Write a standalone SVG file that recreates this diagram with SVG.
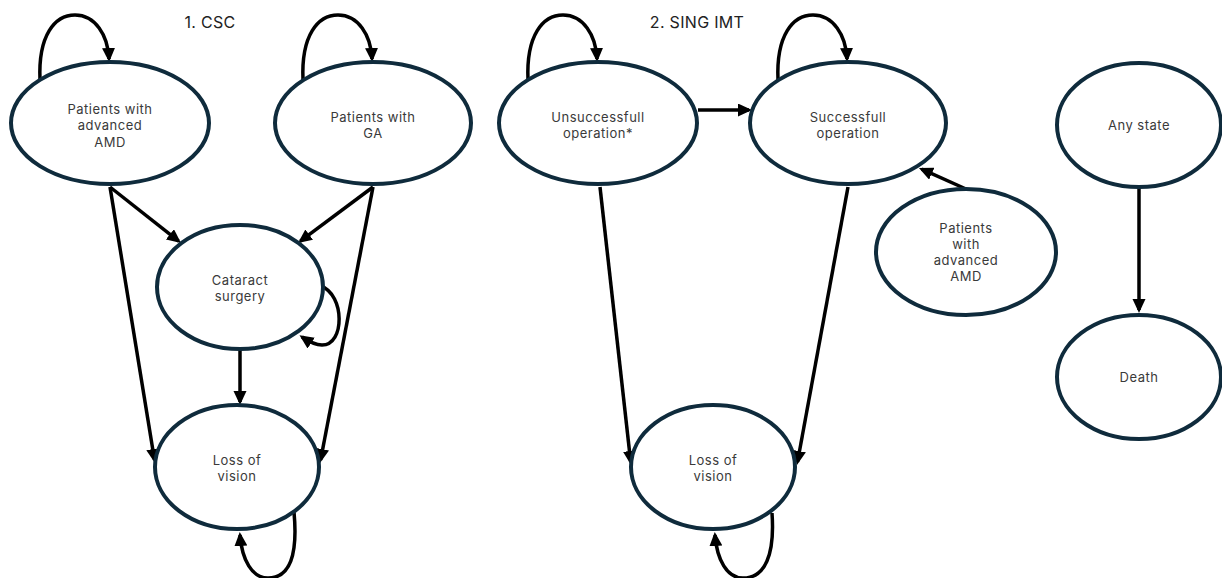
<svg xmlns="http://www.w3.org/2000/svg" width="1222" height="578" viewBox="0 0 1222 578">
<style>
.node ellipse{fill:#fff;stroke:#0f2b3c;stroke-width:4}
.node text{font-family:Inter,"Open Sans","Liberation Sans",sans-serif;font-size:13px;letter-spacing:0.5px;fill:#3a3a3a;text-anchor:middle}
.title{font-family:Inter,"Open Sans","Liberation Sans",sans-serif;font-size:16px;letter-spacing:0.3px;fill:#222;text-anchor:middle}
#connectors path{fill:none;stroke:#000;stroke-width:3.5}
</style>
<defs>
<marker id="arr" markerUnits="userSpaceOnUse" markerWidth="16" markerHeight="14" refX="11" refY="6.5" orient="auto">
<path d="M0,0 L14,6.5 L0,13 z" fill="#000"/>
</marker>
</defs>
<text class="title" x="210" y="28">1. CSC</text>
<text class="title" x="697" y="28">2. SING IMT</text>
<g id="connectors">
<path d="M40,80 C38,35 55,15 75,15 C95,15 108,35 109,59" marker-end="url(#arr)"/>
<path d="M303,80 C301,35 318,15 338,15 C358,15 371,35 372,59" marker-end="url(#arr)"/>
<path d="M528,80 C526,35 543,15 563,15 C583,15 596,35 597,59" marker-end="url(#arr)"/>
<path d="M778,80 C776,35 793,15 813,15 C833,15 846,35 847,59" marker-end="url(#arr)"/>
<path d="M110,187 L178.6,241.1" marker-end="url(#arr)"/>
<path d="M373,187 L300.4,241.2" marker-end="url(#arr)"/>
<path d="M110,187 L154.5,460" marker-end="url(#arr)"/>
<path d="M373,187 L320.6,460" marker-end="url(#arr)"/>
<path d="M240,349 L240,402" marker-end="url(#arr)"/>
<path d="M321,286 C345,295 345,345 322,345 C315,345 308,341 302,337" marker-end="url(#arr)"/>
<path d="M294,512 C298,555 290,578 268,578 C252,578 242,560 240,535" marker-end="url(#arr)"/>
<path d="M698,110 L749,110" marker-end="url(#arr)"/>
<path d="M966,189 L921.7,169.2" marker-end="url(#arr)"/>
<path d="M600,187 L630.7,462" marker-end="url(#arr)"/>
<path d="M848,187 L797.5,462" marker-end="url(#arr)"/>
<path d="M772,513 C775,555 765,578 743,578 C727,578 717,560 715,535" marker-end="url(#arr)"/>
<path d="M1139,188 L1139,310" marker-end="url(#arr)"/>
</g>
<g id="node-amd" class="node">
<ellipse cx="110" cy="123" rx="99" ry="61"/>
<text x="110" y="114">Patients with</text>
<text x="110" y="130">advanced</text>
<text x="110" y="147">AMD</text>
</g>
<g id="node-ga" class="node">
<ellipse cx="373" cy="123" rx="98" ry="61"/>
<text x="373" y="122">Patients with</text>
<text x="373" y="138">GA</text>
</g>
<g id="node-cataract" class="node">
<ellipse cx="240" cy="287" rx="83" ry="62"/>
<text x="240" y="285">Cataract</text>
<text x="240" y="301">surgery</text>
</g>
<g id="node-loss1" class="node">
<ellipse cx="237" cy="467" rx="82" ry="62"/>
<text x="237" y="465">Loss of</text>
<text x="237" y="481">vision</text>
</g>
<g id="node-unsuccessful" class="node">
<ellipse cx="598" cy="123" rx="99" ry="61"/>
<text x="598" y="122">Unsuccessfull</text>
<text x="598" y="138">operation*</text>
</g>
<g id="node-successful" class="node">
<ellipse cx="848" cy="123" rx="98" ry="61"/>
<text x="848" y="122">Successfull</text>
<text x="848" y="138">operation</text>
</g>
<g id="node-amd2" class="node">
<ellipse cx="966" cy="252" rx="90" ry="63"/>
<text x="966" y="233">Patients</text>
<text x="966" y="249">with</text>
<text x="966" y="265">advanced</text>
<text x="966" y="281">AMD</text>
</g>
<g id="node-loss2" class="node">
<ellipse cx="713" cy="467" rx="82" ry="62"/>
<text x="713" y="465">Loss of</text>
<text x="713" y="481">vision</text>
</g>
<g id="node-anystate" class="node">
<ellipse cx="1139" cy="125" rx="82" ry="62"/>
<text x="1139" y="130">Any state</text>
</g>
<g id="node-death" class="node">
<ellipse cx="1139" cy="377" rx="82" ry="62"/>
<text x="1139" y="382">Death</text>
</g>
</svg>
